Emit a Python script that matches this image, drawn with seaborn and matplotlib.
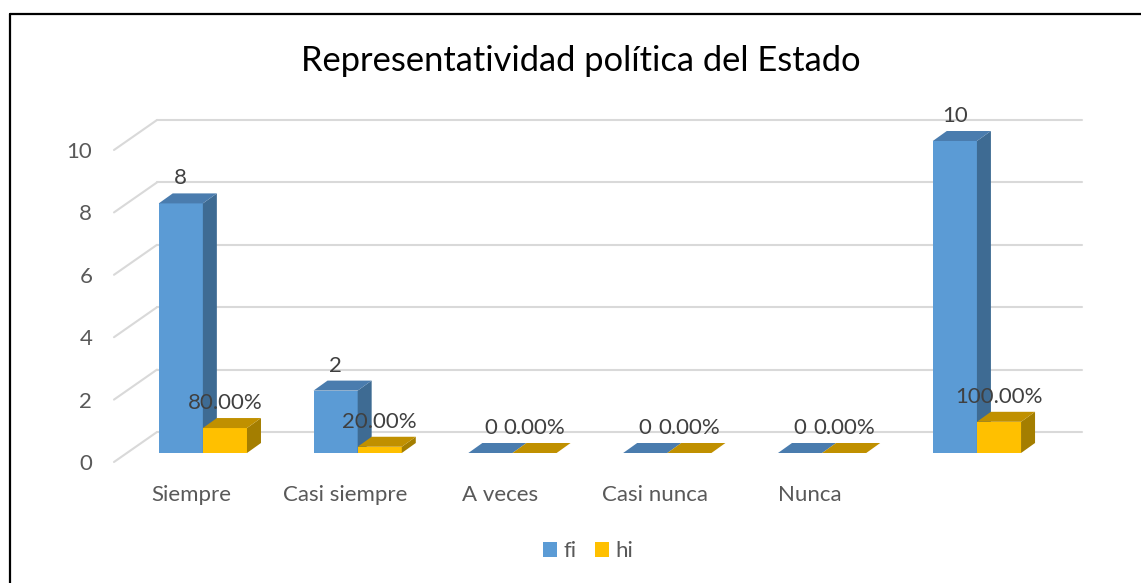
import matplotlib
matplotlib.use("Agg")
import matplotlib.pyplot as plt
import matplotlib.transforms as mtransforms
from matplotlib.patches import Polygon
from matplotlib.lines import Line2D
import seaborn as sns
import pandas as pd

# ---------------- data ----------------
categories = ["Siempre", "Casi siempre", "A veces", "Casi nunca", "Nunca", "Total"]
tick_labels = ["Siempre", "Casi siempre", "A veces", "Casi nunca", "Nunca", ""]
fi = [8, 2, 0, 0, 0, 10]
hi = [0.80, 0.20, 0.00, 0.00, 0.00, 1.00]
fi_labels = ["8", "2", "0", "0", "0", "10"]
hi_labels = ["80.00%", "20.00%", "0.00%", "0.00%", "0.00%", "100.00%"]
yticks = [0, 2, 4, 6, 8, 10]
series = ["fi", "hi"]
title = "Representatividad política del Estado"

# ---------------- style ----------------
sns.set_theme(style="white")
plt.rcParams["font.family"] = ["Lato", "DejaVu Sans"]

W, H = 1141, 583
fig = plt.figure(figsize=(W / 100, H / 100), dpi=100)
ax = fig.add_axes([127 / W, 130 / H, 925 / W, 312 / H])
ax.set_facecolor("none")

df = pd.DataFrame({
    "cat": categories * 2,
    "series": ["fi"] * len(fi) + ["hi"] * len(hi),
    "value": fi + hi,
})
front_col = {"fi": "#5B9BD5", "hi": "#FFC000"}
side_col = {"fi": "#3E6B93", "hi": "#A47E00"}
top_col = {"fi": "#4A7CAE", "hi": "#C09000"}

sns.barplot(data=df, x="cat", y="value", hue="series", order=categories,
            hue_order=series, palette=front_col, width=0.57, saturation=1,
            errorbar=None, linewidth=0, ax=ax)

ax.set_xlim(-0.49, 5.485)
ax.set_ylim(0, 10)
for s in ax.spines.values():
    s.set_visible(False)
ax.grid(False)
ax.set_xlabel("")
ax.set_ylabel("")

# pixel -> data conversions
p0 = ax.transData.transform((0, 0))
p1 = ax.transData.transform((1, 1))
sx = p1[0] - p0[0]
sy = p1[1] - p0[1]

# perspective offsets (pixels)
back_dx, back_dy = 30 / sx, 21 / sy
front_dx, front_dy = -13 / sx, -9 / sy
bar_dx, bar_dy = 14 / sx, 10 / sy

FS = 16
x0, x1 = ax.get_xlim()
grid_c = "#D9D9D9"
for v in yticks:
    ax.add_line(Line2D([x0 + back_dx, x1 + back_dx], [v + back_dy, v + back_dy],
                       color=grid_c, lw=1.5, zorder=0.5, clip_on=False))
    ax.add_line(Line2D([x0 + front_dx, x0 + back_dx], [v + front_dy, v + back_dy],
                       color=grid_c, lw=1.5, zorder=0.5, clip_on=False))

# 3D faces on bars
n = len(categories)
bars = [p for p in ax.patches if p.get_width() > 0][: 2 * n]
for k, p in enumerate(bars):
    s = series[k // n]
    zf = 2 + (k // n)
    p.set_zorder(zf)
    bx, bw, bh = p.get_x(), p.get_width(), p.get_height()
    side = Polygon([(bx + bw, 0), (bx + bw + bar_dx, bar_dy),
                    (bx + bw + bar_dx, bh + bar_dy), (bx + bw, bh)],
                   closed=True, facecolor=side_col[s], edgecolor="none",
                   zorder=zf + 0.1, clip_on=False)
    top = Polygon([(bx, bh), (bx + bar_dx, bh + bar_dy),
                   (bx + bw + bar_dx, bh + bar_dy), (bx + bw, bh)],
                  closed=True, facecolor=top_col[s], edgecolor="none",
                  zorder=zf + 0.2, clip_on=False)
    ax.add_patch(side)
    ax.add_patch(top)
    lab = (fi_labels if s == "fi" else hi_labels)[k % n]
    ax.text(bx + bw / 2, bh + 25 / sy, lab, ha="center", va="center",
            fontsize=FS, color="#404040", zorder=6, clip_on=False)

# ticks
ax.set_yticks(yticks)
ax.set_yticklabels([str(v) for v in yticks])
ax.tick_params(axis="y", length=0, pad=25, labelsize=FS, labelcolor="#595959")
ax.set_xticks(range(n))
ax.set_xticklabels(tick_labels)
ax.tick_params(axis="x", length=0, pad=23, labelsize=FS, labelcolor="#595959")
ty = mtransforms.ScaledTranslation(0, -0.09, fig.dpi_scale_trans)
for lab in ax.get_yticklabels():
    lab.set_transform(lab.get_transform() + ty)
tx = mtransforms.ScaledTranslation(-0.12, 0, fig.dpi_scale_trans)
for lab in ax.get_xticklabels():
    lab.set_transform(lab.get_transform() + tx)

# legend
handles, labels = ax.get_legend_handles_labels()
if ax.get_legend() is not None:
    ax.get_legend().remove()
fig.legend(handles, labels, loc="center", bbox_to_anchor=(588 / W, 1 - 551 / H),
           ncol=2, frameon=False, fontsize=FS, labelcolor="#595959",
           handlelength=0.65, handleheight=0.65, handletextpad=0.3,
           columnspacing=0.8)

fig.text(581 / W, 1 - 61 / H, title, ha="center", va="center",
         fontsize=24.8, color="#000000")

# outer frame (top and left only)
fig.add_artist(Line2D([10 / W, 1], [1 - 14 / H, 1 - 14 / H], color="black",
                      lw=1.6, transform=fig.transFigure))
fig.add_artist(Line2D([10 / W, 10 / W], [0, 1 - 14 / H], color="black",
                      lw=1.6, transform=fig.transFigure))

fig.savefig("out.png", dpi=100, facecolor="white")
